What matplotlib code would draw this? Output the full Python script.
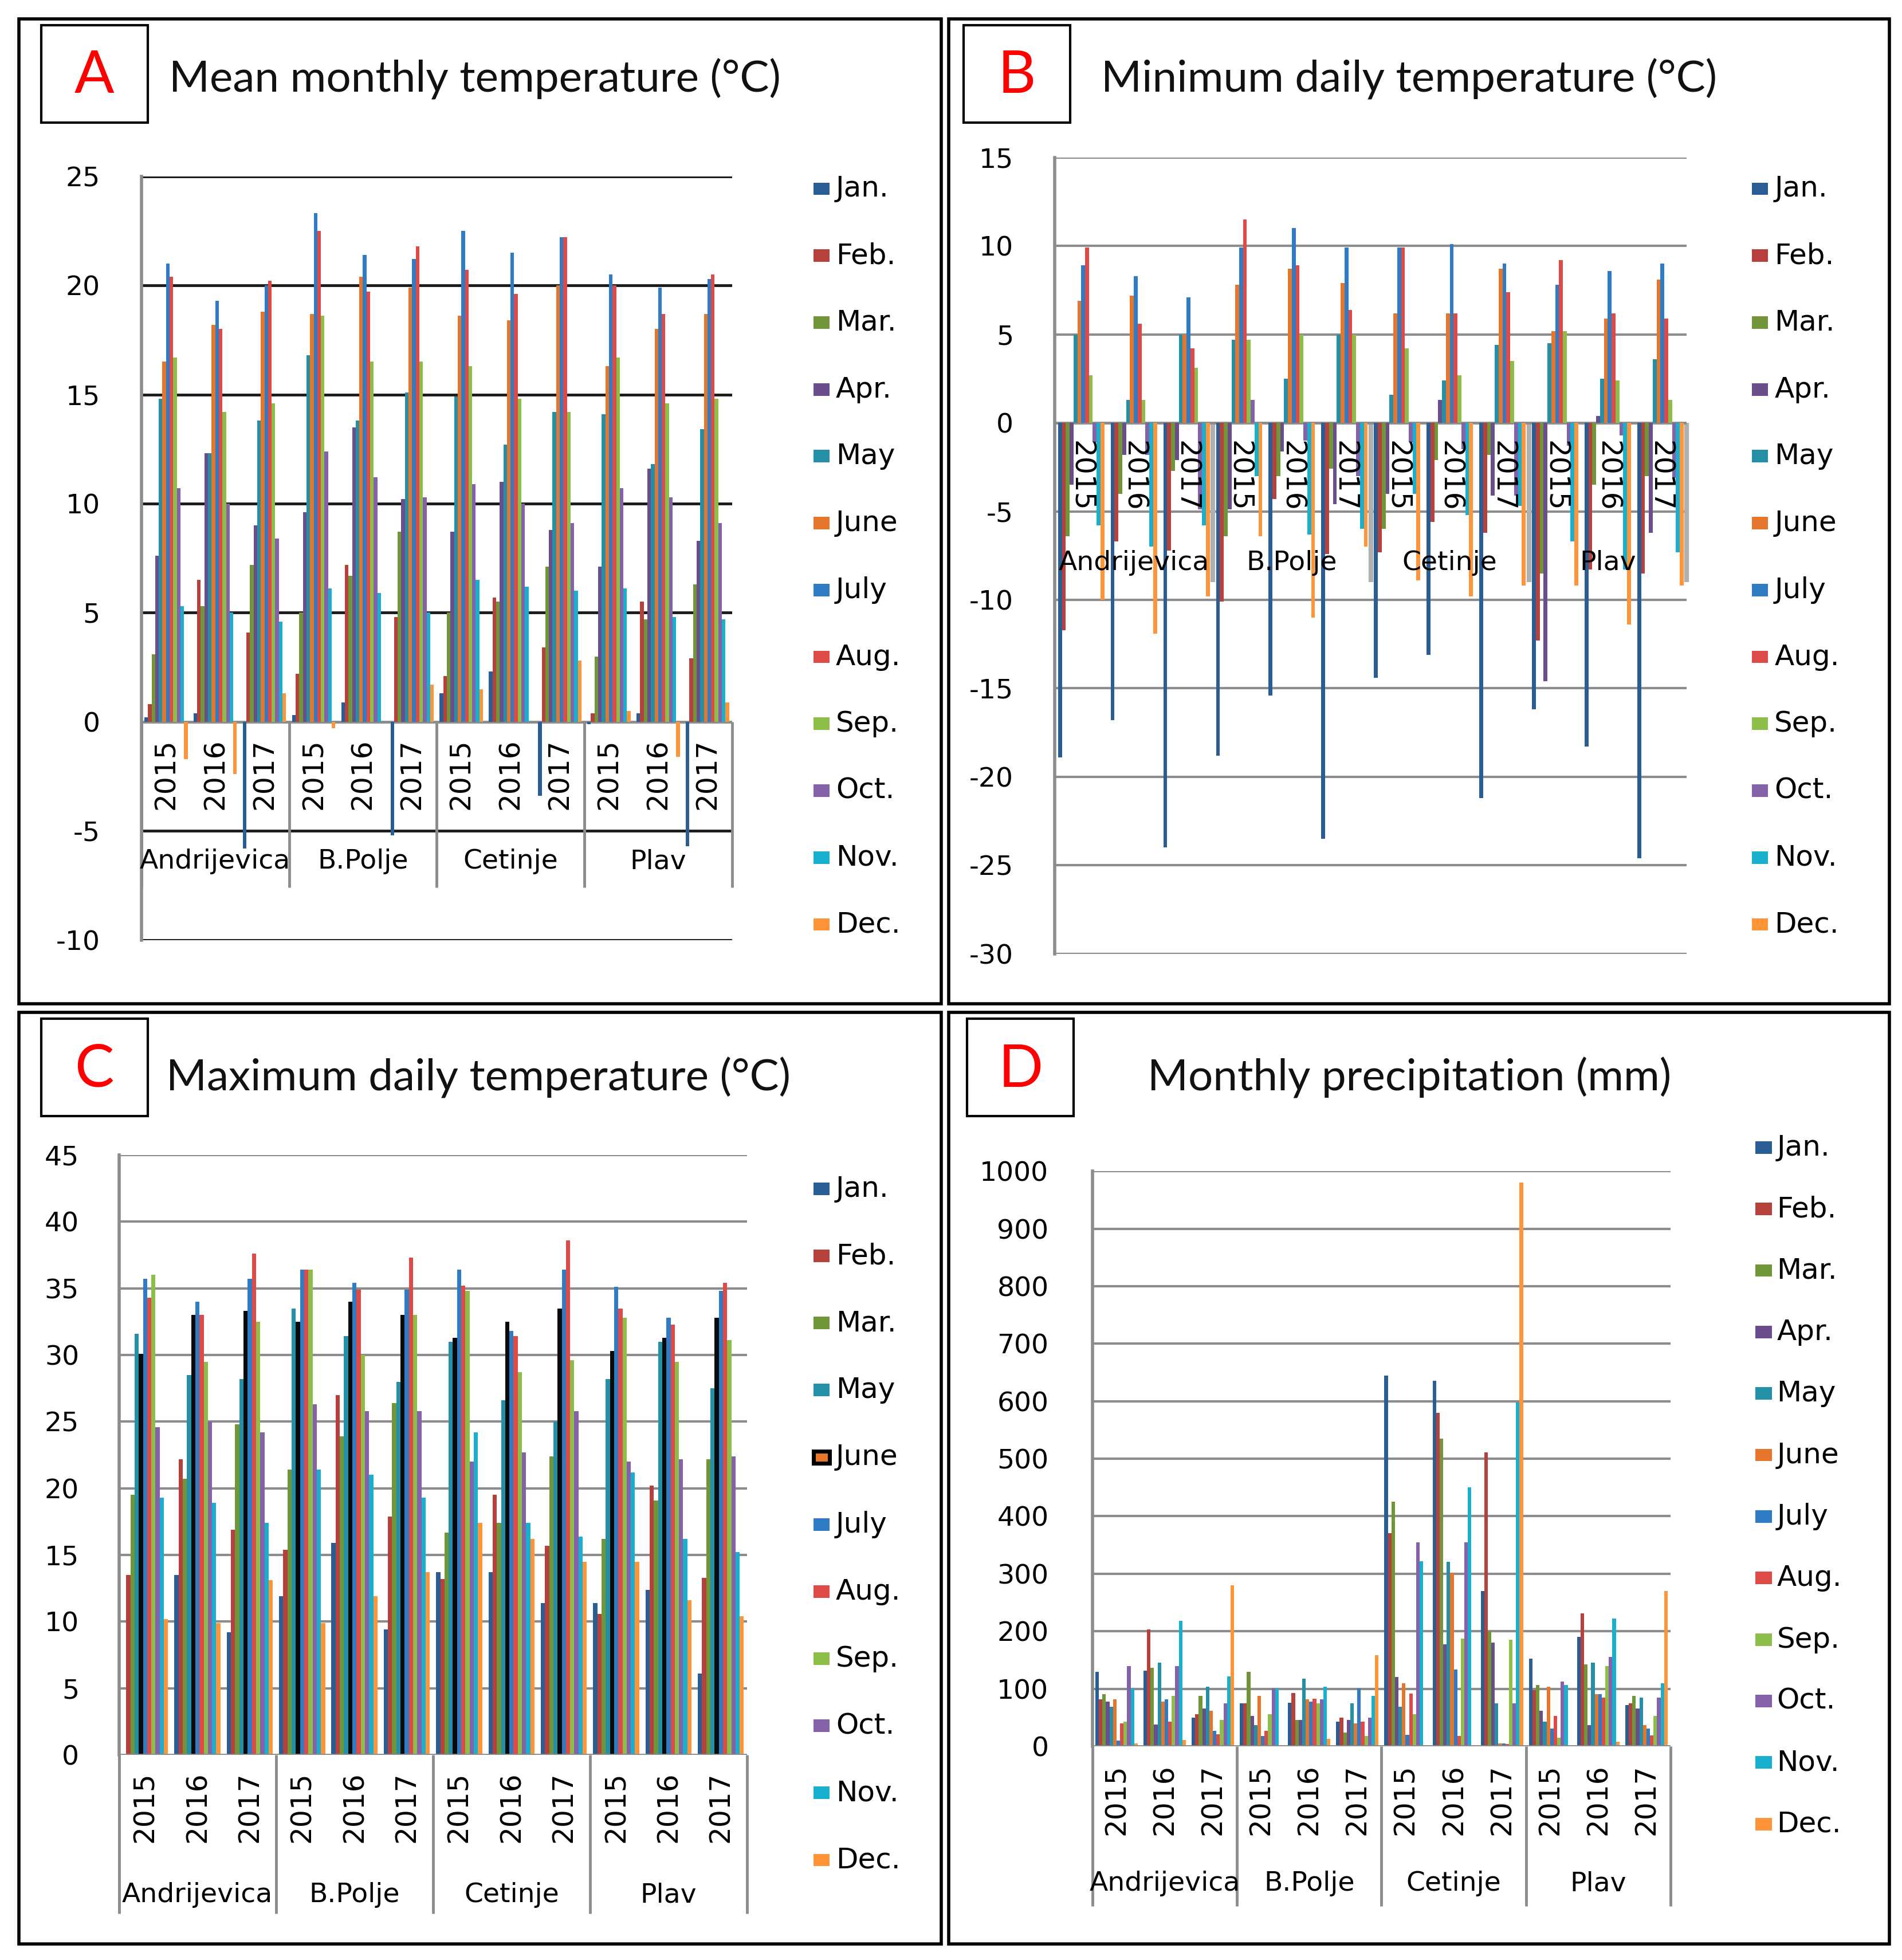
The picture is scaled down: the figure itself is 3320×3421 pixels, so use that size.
import numpy as np
import matplotlib
matplotlib.use("Agg")
import matplotlib.pyplot as plt
from matplotlib.patches import Rectangle

plt.rcParams["axes.unicode_minus"] = False

# --- data -------------------------------------------------------------
stations = ["Andrijevica", "B.Polje", "Cetinje", "Plav"]
years = ["2015", "2016", "2017"]
months = ["Jan.", "Feb.", "Mar.", "Apr.", "May", "June",
          "July", "Aug.", "Sep.", "Oct.", "Nov.", "Dec."]
months_c = ["Jan.", "Feb.", "Mar.", "May", "June", "July",
            "Aug.", "Sep.", "Oct.", "Nov.", "Dec."]

# rows = station/year (Andrijevica 2015 ... Plav 2017), columns = months
mean_temp = [
    [0.2, 0.8, 3.1, 7.6, 14.8, 16.5, 21.0, 20.4, 16.7, 10.7, 5.3, -1.7],
    [0.4, 6.5, 5.3, 12.3, 12.3, 18.2, 19.3, 18.0, 14.2, 10.0, 5.0, -2.4],
    [-5.8, 4.1, 7.2, 9.0, 13.8, 18.8, 20.0, 20.2, 14.6, 8.4, 4.6, 1.3],
    [0.3, 2.2, 5.0, 9.6, 16.8, 18.7, 23.3, 22.5, 18.6, 12.4, 6.1, -0.3],
    [0.9, 7.2, 6.7, 13.5, 13.8, 20.4, 21.4, 19.7, 16.5, 11.2, 5.9, 0.0],
    [-5.2, 4.8, 8.7, 10.2, 15.1, 19.9, 21.2, 21.8, 16.5, 10.3, 5.0, 1.7],
    [1.3, 2.1, 5.0, 8.7, 14.9, 18.6, 22.5, 20.7, 16.3, 10.9, 6.5, 1.5],
    [2.3, 5.7, 5.5, 11.0, 12.7, 18.4, 21.5, 19.6, 14.8, 10.0, 6.2, 0.0],
    [-3.4, 3.4, 7.1, 8.8, 14.2, 20.0, 22.2, 22.2, 14.2, 9.1, 6.0, 2.8],
    [-0.1, 0.4, 3.0, 7.1, 14.1, 16.3, 20.5, 20.0, 16.7, 10.7, 6.1, 0.5],
    [0.4, 5.5, 4.7, 11.6, 11.8, 18.0, 19.9, 18.7, 14.6, 10.3, 4.8, -1.6],
    [-5.7, 2.9, 6.3, 8.3, 13.4, 18.7, 20.3, 20.5, 14.8, 9.1, 4.7, 0.9],
]

min_temp = [
    [-18.9, -11.7, -6.4, -3.5, 5.0, 6.9, 8.9, 9.9, 2.7, -1.1, -5.8, -10.0],
    [-16.8, -6.7, -4.0, -1.8, 1.3, 7.2, 8.3, 5.6, 1.3, -1.8, -7.0, -11.9],
    [-24.0, -7.2, -2.7, -2.1, 5.0, 5.0, 7.1, 4.2, 3.1, -4.9, -5.8, -9.8],
    [-18.8, -10.1, -6.4, -4.9, 4.7, 7.8, 9.9, 11.5, 4.7, 1.3, -3.0, -6.4],
    [-15.4, -4.3, -3.0, -1.6, 2.5, 8.7, 11.0, 8.9, 5.0, -1.0, -6.3, -11.0],
    [-23.5, -7.4, -2.6, -4.6, 5.0, 7.9, 9.9, 6.4, 5.0, -3.0, -6.0, -7.0],
    [-14.4, -7.3, -6.0, -4.0, 1.6, 6.2, 9.9, 9.9, 4.2, -1.1, -4.0, -8.9],
    [-13.1, -5.6, -2.1, 1.3, 2.4, 6.2, 10.1, 6.2, 2.7, -1.5, -5.2, -9.8],
    [-21.2, -6.2, -1.8, -4.1, 4.4, 8.7, 9.0, 7.4, 3.5, -4.1, -4.7, -9.2],
    [-16.2, -12.3, -8.5, -14.6, 4.5, 5.2, 7.8, 9.2, 5.2, -1.3, -6.7, -9.2],
    [-18.3, -8.3, -3.5, 0.4, 2.5, 5.9, 8.6, 6.2, 2.4, -0.7, -8.3, -11.4],
    [-24.6, -8.5, -3.0, -6.2, 3.6, 8.1, 9.0, 5.9, 1.3, -3.1, -7.3, -9.2],
]

# no April series in the maximum panel
max_temp = [
    [np.nan, 13.5, 19.5, 31.6, 30.1, 35.7, 34.3, 36.0, 24.6, 19.3, 10.2],
    [13.5, 22.2, 20.7, 28.5, 33.0, 34.0, 33.0, 29.5, 25.0, 18.9, 9.9],
    [9.2, 16.9, 24.8, 28.2, 33.3, 35.7, 37.6, 32.5, 24.2, 17.4, 13.1],
    [11.9, 15.4, 21.4, 33.5, 32.5, 36.4, 36.4, 36.4, 26.3, 21.4, 9.9],
    [15.9, 27.0, 23.9, 31.4, 34.0, 35.4, 34.9, 30.0, 25.8, 21.0, 11.9],
    [9.4, 17.9, 26.4, 28.0, 33.0, 34.9, 37.3, 33.0, 25.8, 19.3, 13.7],
    [13.7, 13.2, 16.7, 31.0, 31.3, 36.4, 35.2, 34.8, 22.0, 24.2, 17.4],
    [13.7, 19.5, 17.4, 26.6, 32.5, 31.8, 31.4, 28.7, 22.7, 17.4, 16.2],
    [11.4, 15.7, 22.4, 25.0, 33.5, 36.4, 38.6, 29.6, 25.8, 16.4, 14.5],
    [11.4, 10.6, 16.2, 28.2, 30.3, 35.1, 33.5, 32.8, 22.0, 21.2, 14.5],
    [12.4, 20.2, 19.1, 31.0, 31.3, 32.8, 32.3, 29.5, 22.2, 16.2, 11.6],
    [6.1, 13.3, 22.2, 27.5, 32.8, 34.8, 35.4, 31.1, 22.4, 15.2, 10.4],
]

precip = [
    [129, 82, 91, 78, 69, 82, 10, 40, 43, 139, 101, 5],
    [131, 203, 136, 38, 145, 78, 82, 43, 88, 139, 218, 11],
    [50, 56, 88, 66, 104, 62, 27, 21, 46, 75, 121, 280],
    [75, 75, 129, 53, 37, 88, 18, 27, 56, 101, 101, 2],
    [76, 93, 46, 46, 117, 82, 78, 83, 75, 82, 104, 13],
    [43, 50, 24, 46, 75, 40, 101, 43, 18, 50, 88, 158],
    [645, 371, 425, 120, 69, 110, 20, 92, 56, 355, 322, 2],
    [636, 580, 535, 177, 321, 302, 133, 18, 187, 355, 450, 2],
    [270, 511, 200, 180, 75, 5, 5, 4, 185, 75, 598, 980],
    [152, 98, 107, 62, 43, 104, 31, 53, 15, 113, 107, 2],
    [190, 231, 142, 37, 145, 91, 91, 85, 139, 155, 222, 8],
    [72, 75, 88, 66, 85, 37, 31, 19, 53, 85, 110, 270],
]

month_colors = {
    "Jan.": "#2A5D94", "Feb.": "#B5403C", "Mar.": "#71963A", "Apr.": "#6A4E8C",
    "May": "#2390A8", "June": "#E5762C", "July": "#2F7CC4", "Aug.": "#DD4A48",
    "Sep.": "#8DBE4A", "Oct.": "#8461A8", "Nov.": "#18B0CE", "Dec.": "#FF9538",
}

# reference layout was measured on a 1520 x 1568 view
W, H = 1520.0, 1568.0
GRAY = "#8c8c8c"


def frect(x0, y0, x1, y1):
    return [x0 / W, 1 - y1 / H, (x1 - x0) / W, (y1 - y0) / H]


fig = plt.figure(figsize=(33.2, 34.21), dpi=100)


def box(x0, y0, x1, y1, lw):
    fig.add_artist(Rectangle((x0 / W, 1 - y1 / H), (x1 - x0) / W, (y1 - y0) / H,
                             transform=fig.transFigure, fill=False,
                             edgecolor="black", linewidth=lw))


def header(letter, bx, by, title, tx, ty):
    box(bx, by, bx + 85, by + 78, 3)
    fig.text((bx + 42.5) / W, 1 - (by + 41) / H, letter, color="red",
             fontsize=74, family="Lato", ha="center", va="center")
    fig.text(tx / W, 1 - ty / H, title, fontsize=55, family="Lato",
             ha="left", va="center", color="#111111")


def legend(names, mx, tx, y0, step, june_edge=False):
    for i, name in enumerate(names):
        y = y0 + i * step
        ec = "none"
        lw = 0
        if june_edge and name == "June":
            ec, lw = "black", 5
        fig.add_artist(Rectangle((mx / W, 1 - (y + 5) / H), 13 / W, 10 / H,
                                 transform=fig.transFigure, facecolor=month_colors[name],
                                 edgecolor=ec, linewidth=lw))
        fig.text(tx / W, 1 - y / H, name, fontsize=36, ha="left", va="center")


def bars(ax, data, names, overrides=None):
    data = np.array(data, dtype=float)
    n = len(names)
    x = np.arange(len(data))
    w = 0.88 / n
    for j, name in enumerate(names):
        col = month_colors[name]
        if overrides and name in overrides:
            col = overrides[name]
        ax.bar(x - 0.44 + w * (j + 0.5), np.nan_to_num(data[:, j]), width=w,
               color=col, zorder=2, linewidth=0)


def style_axes(ax, ymin, ymax, step, grid_color, grid_lw, pad):
    ax.set_xlim(-0.5, 11.5)
    ax.set_ylim(ymin, ymax)
    ticks = np.arange(ymin, ymax + step / 2, step)
    ax.set_yticks(ticks)
    ax.set_xticks([])
    for v in ticks:
        if v != 0:
            ax.axhline(v, color=grid_color, lw=grid_lw, zorder=0.5)
    for s in ["top", "right", "bottom"]:
        ax.spines[s].set_visible(False)
    ax.spines["left"].set_color(GRAY)
    ax.spines["left"].set_linewidth(4)
    ax.tick_params(axis="y", length=0, pad=pad, labelsize=34)
    ax.set_facecolor("none")


def category_labels(ax, y_year, y_station, y_sep, rot=90, seps=(-0.5, 2.5, 5.5, 8.5, 11.5),
                    sep_color=GRAY, sep_lw=3.5):
    for g in range(12):
        ax.text(g, y_year, years[g % 3], rotation=rot, ha="center", va="center",
                fontsize=35, zorder=5, clip_on=False)
    for s, name in enumerate(stations):
        ax.text(3 * s + 1, y_station, name, ha="center", va="center",
                fontsize=34, zorder=5, clip_on=False)
    for b in seps:
        ax.plot([b, b], [0, y_sep], color=sep_color, lw=sep_lw, zorder=1,
                clip_on=False, solid_capstyle="butt")


# panel frames
box(15, 15, 752, 803, 4)
box(758, 15, 1510, 803, 4)
box(15, 810, 752, 1555, 4)
box(758, 810, 1510, 1555, 4)

# A: mean monthly temperature
header("A", 33, 20, "Mean monthly temperature (°C)", 135, 63)
axA = fig.add_axes(frect(113, 141, 585, 752))
style_axes(axA, -10, 25, 5, "#1a1a1a", 3.5, 52)
bars(axA, mean_temp, months)
axA.axhline(0, color=GRAY, lw=3.5, zorder=1.5)
category_labels(axA, -2.4, -6.4, -7.6)
legend(months, 650, 668, 151, 53.5)

# B: minimum daily temperature
header("B", 770, 20, "Minimum daily temperature (°C)", 880, 63)
axB = fig.add_axes(frect(843, 126, 1348, 763))
style_axes(axB, -30, 15, 5, GRAY, 3, 52)
bars(axB, min_temp, months)
axB.axhline(0, color=GRAY, lw=3.5, zorder=1.5)
category_labels(axB, -3.0, -7.9, -9.0, rot=-90, seps=(2.5, 5.5, 8.5, 11.5),
                sep_color="#b0b0b0", sep_lw=6)
legend(months, 1400, 1418, 151, 53.5)

# C: maximum daily temperature
header("C", 33, 815, "Maximum daily temperature (°C)", 133, 862)
axC = fig.add_axes(frect(95, 924, 597, 1404))
style_axes(axC, 0, 45, 5, GRAY, 3, 50)
bars(axC, max_temp, months_c, overrides={"June": "#0a0a0a"})
axC.axhline(0, color=GRAY, lw=3.5, zorder=3)
category_labels(axC, -3.9, -10.5, -11.9)
legend(months_c, 650, 668, 951, 53.7, june_edge=True)

# D: monthly precipitation
header("D", 773, 815, "Monthly precipitation (mm)", 917, 862)
axD = fig.add_axes(frect(873, 937, 1335, 1397))
style_axes(axD, 0, 1000, 100, GRAY, 3, 55)
bars(axD, precip, months)
axD.axhline(0, color=GRAY, lw=3.5, zorder=3)
category_labels(axD, -93, -239, -278)
legend(months, 1403, 1420, 918, 49.2)

fig.savefig("out.png", dpi=100, facecolor="white")
